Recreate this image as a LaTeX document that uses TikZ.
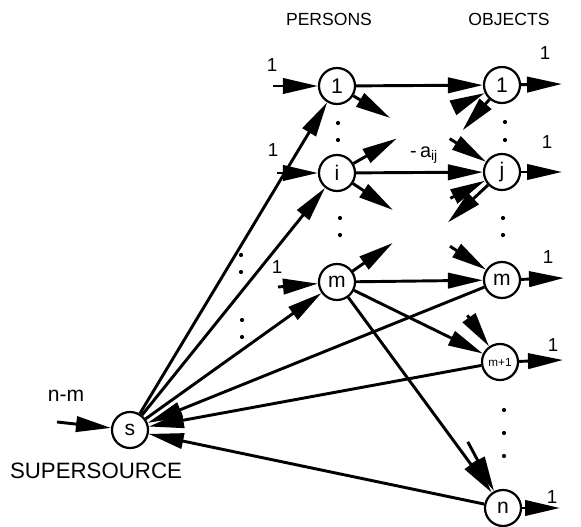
\documentclass[tikz,border=0pt]{standalone}
\usepackage{fontspec}
\setmainfont{Liberation Sans}
\usetikzlibrary{arrows.meta}

\begin{document}
\begin{tikzpicture}[x=0.03cm, y=0.03cm, line width=2.5pt, >={Triangle[length=10.5mm,width=4.6mm]},
  vtx/.style={draw, circle, line width=1.9pt, minimum size=1.08cm, inner sep=0pt,
              font=\fontsize{18}{18}\selectfont},
  lab/.style={font=\fontsize{16}{16}\selectfont},
  hd/.style={font=\fontsize{15}{15}\selectfont}]
\useasboundingbox (0,0) rectangle (581,527);
% headings
\node[hd] (hp) at (329,508) {PERSONS};
\node[hd] (ho) at (509,508) {OBJECTS};
\node[font=\fontsize{19}{19}\selectfont] (hs) at (96,56) {SUPERSOURCE};
% nodes
\node[vtx] (s) at (130,97) {s};
\node[vtx] (P1) at (337,441) {1};
\node[vtx] (Pi) at (337,354) {i};
\node[vtx] (Pm) at (337,245) {m};
\node[vtx] (O1) at (502,442) {1};
\node[vtx] (Oj) at (502,355) {j};
\node[vtx] (Om) at (502,247) {m};
\node[vtx, font=\fontsize{10}{10}\selectfont] (Om1) at (500,165) {m+1};
\node[vtx] (On) at (503,19) {n};
% supplies and demands
\coordinate (sin) at (57,105);
\coordinate (P1in) at (273,441);
\coordinate (Piin) at (277,354);
\coordinate (Pmin) at (278,240);
\draw[->] (sin) -- (s);
\draw[->] (P1in) -- (P1);
\draw[->] (Piin) -- (Pi);
\draw[->] (Pmin) -- (Pm);
\node[font=\fontsize{18}{18}\selectfont] (nm) at (66,131) {n-m};
\node[lab] (l1) at (272,462) {1};
\node[lab] (li) at (273,377) {1};
\node[lab] (lm) at (277,260) {1};
\coordinate (O1out) at (562,443);
\coordinate (Ojout) at (562,355);
\coordinate (Omout) at (564,249);
\coordinate (Om1out) at (563,167);
\coordinate (Onout) at (560,19);
\draw[->] (O1) -- (O1out);
\draw[->] (Oj) -- (Ojout);
\draw[->] (Om) -- (Omout);
\draw[->] (Om1) -- (Om1out);
\draw[->] (On) -- (Onout);
\node[lab] (d1) at (545,474) {1};
\node[lab] (dj) at (547,385) {1};
\node[lab] (dm) at (548,270) {1};
\node[lab] (dm1) at (553,182) {1};
\node[lab] (dn) at (552,30) {1};
% supersource arcs
\draw[->] (s) -- (P1);
\draw[->] (s) -- (Pi);
\draw[->] (s) -- (Pm);
\draw[->] (Om) -- (s);
\draw[->] (Om1) -- (s);
\draw[->] (On) -- (s);
% assignment arcs
\draw[->] (P1) -- (O1);
\draw[->] (Pi) -- (Oj);
\draw[->] (Pm) -- (Om);
\draw[->] (Pm) -- (Om1);
\draw[->] (Pm) -- (On);
\node[font=\fontsize{17}{17}\selectfont] (aij) at (424,372) {-\,a\textsubscript{ij}};
% stubs of the other arcs
\path (P1) ++(-31:62) coordinate (P1a);
\path (Pi) ++(30:69) coordinate (Pia);
\path (Pi) ++(-33.5:67) coordinate (Pib);
\path (Pm) ++(35:68) coordinate (Pma);
\draw[->] (P1) -- (P1a);
\draw[->] (Pi) -- (Pia);
\draw[->] (Pi) -- (Pib);
\draw[->] (Pm) -- (Pma);
\path (O1) ++(205:54) coordinate (O1a);
\path (O1) ++(229:60) coordinate (O1b);
\path (Oj) ++(147.5:62) coordinate (Oja);
\path (Oj) ++(207:58) coordinate (Ojb);
\path (Oj) ++(223:74) coordinate (Ojc);
\path (Om) ++(147:62) coordinate (Oma);
\path (Om1) ++(125:57) coordinate (Om1a);
\path (On) ++(118:75) coordinate (Ona);
\draw[->] (O1a) -- (O1);
\draw[->] (O1) -- (O1b);
\draw[->] (Oja) -- (Oj);
\draw[->] (Ojb) -- (Oj);
\draw[->] (Oj) -- (Ojc);
\draw[->] (Oma) -- (Om);
\draw[->] (Om1a) -- (Om1);
\draw[->] (Ona) -- (On);
% dots
\foreach \x/\y in {338/404, 338/387, 340/309, 340/292, 241/272, 241/255, 242/207, 242/190,
                   505/405, 505/387, 503/309, 503/292, 504/117, 504/94, 504/71}
  \fill (\x,\y) circle (2.1);
\end{tikzpicture}
\end{document}
